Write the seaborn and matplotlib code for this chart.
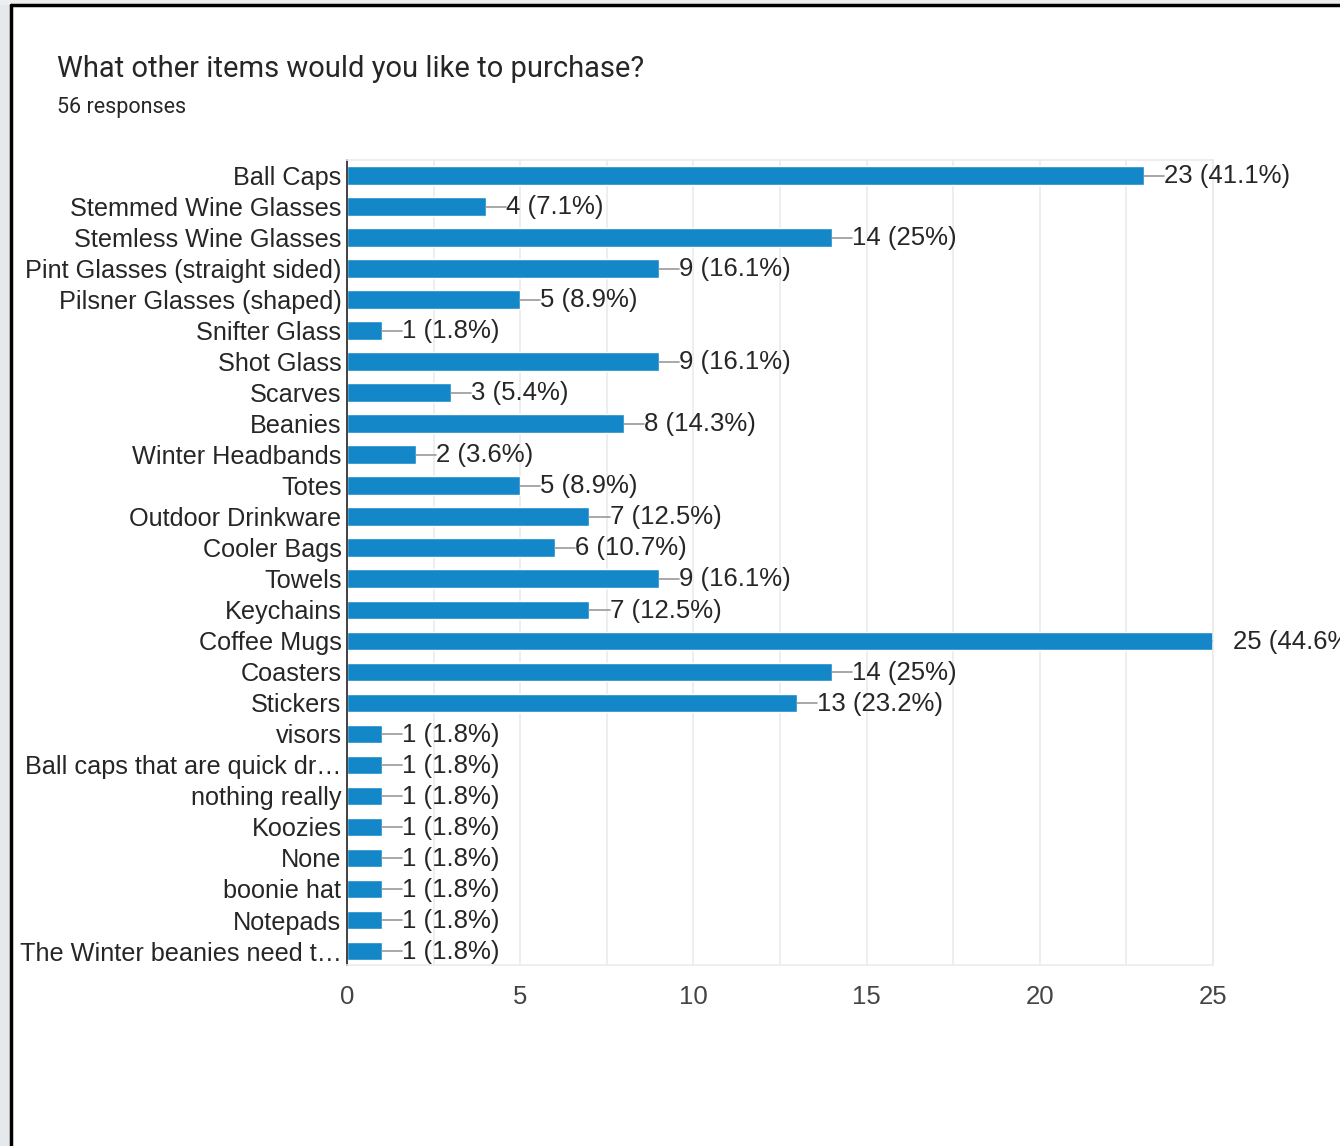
import matplotlib
matplotlib.use("Agg")
import matplotlib.pyplot as plt
import pandas as pd
import seaborn as sns
from matplotlib.patches import Rectangle

sns.set_style("white")
plt.rcParams['font.family'] = ['Liberation Sans', 'DejaVu Sans']

items = ["Ball Caps", "Stemmed Wine Glasses", "Stemless Wine Glasses",
         "Pint Glasses (straight sided)", "Pilsner Glasses (shaped)", "Snifter Glass",
         "Shot Glass", "Scarves", "Beanies", "Winter Headbands", "Totes",
         "Outdoor Drinkware", "Cooler Bags", "Towels", "Keychains", "Coffee Mugs",
         "Coasters", "Stickers", "visors", "Ball caps that are quick dr\u2026",
         "nothing really", "Koozies", "None", "boonie hat", "Notepads",
         "The Winter beanies need t\u2026"]
counts = [23, 4, 14, 9, 5, 1, 9, 3, 8, 2, 5, 7, 6, 9, 7, 25, 14, 13, 1, 1, 1, 1, 1, 1, 1, 1]
pct_labels = ["41.1%", "7.1%", "25%", "16.1%", "8.9%", "1.8%", "16.1%", "5.4%", "14.3%",
              "3.6%", "8.9%", "12.5%", "10.7%", "16.1%", "12.5%", "44.6%", "25%", "23.2%",
              "1.8%", "1.8%", "1.8%", "1.8%", "1.8%", "1.8%", "1.8%", "1.8%"]

df = pd.DataFrame({"item": items, "count": counts})

text_col = "#262626"
fs = 18.5
fig = plt.figure(figsize=(13.4, 11.46), dpi=100)
fig.patch.set_facecolor("white")

# grey page strips around the white card, plus black frame
fig.add_artist(Rectangle((0, 0), 11 / 1340, 1, transform=fig.transFigure,
                         facecolor="#e6e9ec", edgecolor="none", zorder=-5))
fig.add_artist(Rectangle((0, 1 - 5 / 1146), 1, 5 / 1146, transform=fig.transFigure,
                         facecolor="#eceef0", edgecolor="none", zorder=-5))
fig.add_artist(plt.Line2D([11 / 1340, 11 / 1340], [0, 1 - 5 / 1146], color="black", lw=2.5,
                          transform=fig.transFigure))
fig.add_artist(plt.Line2D([11 / 1340, 1], [1 - 5 / 1146, 1 - 5 / 1146], color="black", lw=2.5,
                          transform=fig.transFigure))

ax = fig.add_axes([347 / 1340, 1 - 965 / 1146, (1213 - 347) / 1340, (965 - 160) / 1146])
ax.set_facecolor("white")
sns.barplot(data=df, y="item", x="count", orient="h", color="#1487c9", width=0.6,
            saturation=1, ax=ax)

ax.set_xlim(0, 25)
ax.set_ylim(len(items) - 0.55, -0.5)
ax.set_xticks([0, 5, 10, 15, 20, 25])
ax.set_xticks([2.5, 7.5, 12.5, 17.5, 22.5], minor=True)
ax.grid(axis="x", which="both", color="#ebebeb", lw=1.2, zorder=0)
ax.set_axisbelow(True)
ax.set_xlabel("")
ax.set_ylabel("")
ax.tick_params(axis="y", length=0, pad=4, labelsize=18.2, labelcolor=text_col)
ax.tick_params(axis="x", which="both", length=0, pad=14.5, labelsize=fs, labelcolor="#444444")
for side in ["top", "right", "bottom"]:
    ax.spines[side].set_color("#ebebeb")
    ax.spines[side].set_linewidth(1.2)
ax.spines["left"].set_color("#333333")
ax.spines["left"].set_linewidth(1.3)

for i, (c, p) in enumerate(zip(counts, pct_labels)):
    ax.plot([c, c + 0.58], [i, i], color="#999999", lw=1.2, zorder=3)
    ax.annotate(f"{c} ({p})", xy=(c, i), xytext=(14.5, -0.5), textcoords="offset points",
                va="center", ha="left", fontsize=fs, color=text_col, annotation_clip=False)

fig.text(57 / 1340, 1 - 69 / 1146, "What other items would you like to purchase?",
         fontsize=21, color=text_col, va="center", ha="left", family="Roboto")
fig.text(57 / 1340, 1 - 108 / 1146, "56 responses", fontsize=15.5, color=text_col,
         va="center", ha="left", family="Roboto")

fig.savefig("out.png", dpi=100, facecolor=fig.get_facecolor())
